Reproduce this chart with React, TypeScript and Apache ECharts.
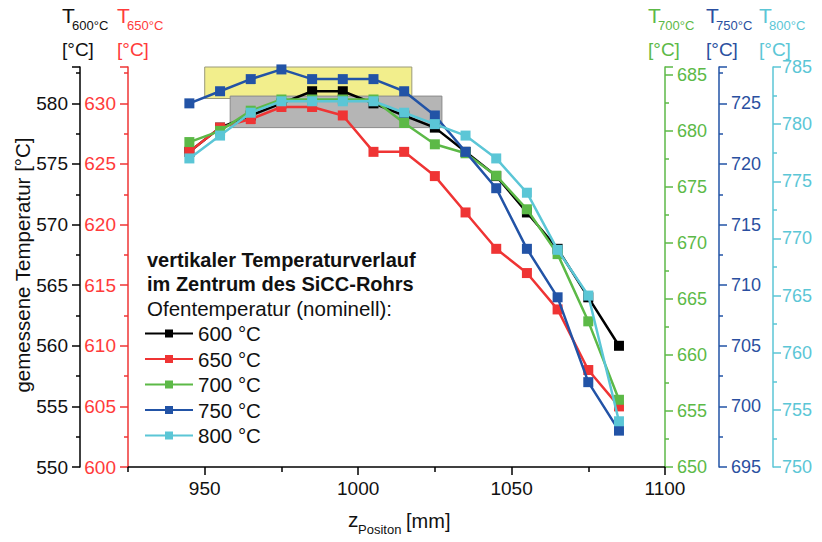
import React, { useEffect, useRef } from "react";
import * as echarts from "echarts";

const positions = [945, 955, 965, 975, 985, 995, 1005, 1015, 1025, 1035, 1045, 1055, 1065, 1075, 1085];
const t600 = [576, 578, 579, 580, 581, 581, 580, 579, 578, 576, 574, 571, 568, 564, 560];
const t650 = [626, 628, 628.7, 629.7, 629.7, 629, 626, 626, 624, 621, 618, 616, 613, 608, 605];
const t700 = [679, 680, 681.8, 682.8, 682.8, 682.8, 682.8, 680.7, 678.8, 678, 676, 673, 669, 663, 656];
const t750 = [725, 726, 727, 727.8, 727, 727, 727, 726, 724, 721, 718, 713, 709, 702, 698];
const t800 = [777, 779, 781, 782, 782, 782, 782, 781, 780, 779, 777, 774, 769, 765, 754];

const seriesNames = ["600 °C", "650 °C", "700 °C", "750 °C", "800 °C"];
const axisSubs = ["600°C", "650°C", "700°C", "750°C", "800°C"];
const axisMins = [550, 600, 650, 695, 750];
const axisMaxs = [583, 633, 685.7, 728, 785];
const xMajorTicks = [950, 1000, 1050, 1100];
const xMinorTicks = [925, 975, 1025, 1075];
// yellow & gray highlight boxes (x range, y range on the 600 °C axis)
const yellowBox = [[950, 580.4], [1017.5, 583]];
const grayBox = [[958.3, 578], [1027.3, 580.6]];

const FONT = "'Liberation Sans', Arial, sans-serif";
const colors = ["#000000", "#ef3434", "#5cb947", "#2253a6", "#5bc6d6"];
const labelColors = ["#111111", "#ff3b3b", "#5cb947", "#2a4fa0", "#5bc6d6"];

export default function App() {
  const ref = useRef<HTMLDivElement>(null);
  useEffect(() => {
    document.body.style.margin = "0";
    const chart = echarts.init(ref.current!, undefined, { renderer: "svg" });
    const allData = [t600, t650, t700, t750, t800];

    const yAxes = axisMins.map((mn, i) => {
      const isLeft = i < 2;
      const offsets = [48, 0, 0, 54, 108];
      return {
        type: "value",
        position: isLeft ? "left" : "right",
        offset: offsets[i],
        min: mn,
        max: axisMaxs[i],
        interval: 5,
        splitLine: { show: false },
        axisLine: { show: true, lineStyle: { color: colors[i], width: 1.5 } },
        axisTick: { show: true, length: 8, inside: false, lineStyle: { color: colors[i], width: 1.5 } },
        minorTick: { show: true, splitNumber: 2, length: 4, lineStyle: { color: colors[i], width: 1.5 } },
        axisLabel: {
          show: true,
          showMaxLabel: i === 4,
          margin: isLeft ? 12 : i === 4 ? 9 : 12,
          color: labelColors[i],
          fontSize: isLeft ? 19 : 18,
          fontFamily: FONT,
          formatter: (v: number) => (v % 5 === 0 ? String(v) : ""),
        },
      };
    });

    const graphics: any[] = [];
    const tLeft = [62, 117, 648, 706, 759];
    tLeft.forEach((x, i) => {
      graphics.push({
        type: "text", left: x, top: 5,
        style: { text: "T", fontSize: 21, fontFamily: FONT, fill: labelColors[i] },
      });
      graphics.push({
        type: "text", left: x + 10, top: 19,
        style: { text: axisSubs[i], fontSize: 13, fontFamily: FONT, fill: labelColors[i] },
      });
      graphics.push({
        type: "text", left: x, top: 40,
        style: { text: "[°C]", fontSize: 19, fontFamily: FONT, fill: labelColors[i] },
      });
    });
    graphics.push({
      type: "text", left: 147, top: 250,
      style: { text: "vertikaler Temperaturverlauf", fontSize: 20, fontWeight: "bold", fontFamily: FONT, fill: "#111" },
    });
    graphics.push({
      type: "text", left: 147, top: 274,
      style: { text: "im Zentrum des SiCC-Rohrs", fontSize: 20, fontWeight: "bold", fontFamily: FONT, fill: "#111" },
    });
    graphics.push({
      type: "text", left: 147, top: 298,
      style: { text: "Ofentemperatur (nominell):", fontSize: 20.5, fontFamily: FONT, fill: "#111" },
    });
    graphics.push({
      type: "text", x: 22, y: 265, rotation: Math.PI / 2,
      style: {
        text: "gemessene Temperatur [°C]", fontSize: 20.5, fontFamily: FONT, fill: "#111",
        align: "center", verticalAlign: "middle",
      },
    });
    graphics.push({
      type: "text", left: 348, top: 509,
      style: { text: "z", fontSize: 21, fontFamily: FONT, fill: "#111" },
    });
    graphics.push({
      type: "text", left: 358, top: 523,
      style: { text: "Positon", fontSize: 13, fontFamily: FONT, fill: "#111" },
    });
    graphics.push({
      type: "text", left: 406, top: 511,
      style: { text: "[mm]", fontSize: 20, fontFamily: FONT, fill: "#111" },
    });

    const series: any[] = allData.map((vals, i) => ({
      name: seriesNames[i],
      type: "line",
      xAxisIndex: 0,
      yAxisIndex: i,
      data: positions.map((p, k) => [p, vals[k]]),
      symbol: "rect",
      symbolSize: 10,
      showSymbol: true,
      lineStyle: { color: colors[i], width: 2.5 },
      itemStyle: { color: colors[i] },
      z: 3 + i,
    }));
    series[0].markArea = {
      silent: true,
      z: 1,
      data: [
        [
          { coord: yellowBox[0], itemStyle: { color: "#f2ee8c", borderColor: "#9a9a7a", borderWidth: 1 } },
          { coord: yellowBox[1] },
        ],
        [
          { coord: grayBox[0], itemStyle: { color: "#b5b5b5", borderColor: "#8a8a8a", borderWidth: 1, opacity: 1 } },
          { coord: grayBox[1] },
        ],
      ],
    };

    chart.setOption({
      animation: false,
      backgroundColor: "#ffffff",
      textStyle: { fontFamily: FONT },
      grid: { left: 128, right: 157, top: 67, bottom: 75, containLabel: false },
      legend: {
        orient: "vertical",
        left: 144,
        top: 323,
        padding: 0,
        itemWidth: 48,
        itemHeight: 10,
        itemGap: 4.5,
        data: seriesNames,
        textStyle: { fontSize: 20.5, fontFamily: FONT, color: "#111" },
        selectedMode: false,
      },
      xAxis: [
        {
          type: "value",
          min: 925,
          max: 1100,
          position: "bottom",
          splitLine: { show: false },
          axisLine: { onZero: false, lineStyle: { color: "#000", width: 1.5 } },
          axisTick: { show: true, length: 8, customValues: xMajorTicks, lineStyle: { color: "#000", width: 1.5 } },
          axisLabel: {
            customValues: xMajorTicks, fontSize: 19, margin: 12, color: "#111", fontFamily: FONT,
            formatter: (v: number) => String(v),
          },
        },
        {
          type: "value",
          min: 925,
          max: 1100,
          position: "bottom",
          splitLine: { show: false },
          axisLine: { show: false, onZero: false },
          axisTick: { show: true, length: 5, customValues: xMinorTicks, lineStyle: { color: "#000", width: 1.5 } },
          axisLabel: { show: false },
        },
      ],
      yAxis: yAxes,
      graphic: graphics,
      series,
    });
    return () => chart.dispose();
  }, []);
  return <div ref={ref} style={{ position: "absolute", left: 0, top: 0, width: 822, height: 542 }} />;
}
